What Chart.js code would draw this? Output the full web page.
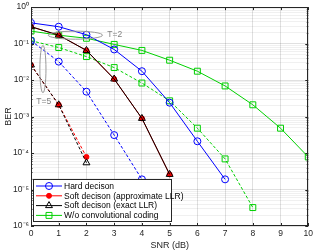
<!DOCTYPE html>
<html><head><meta charset="utf-8">
<script src="https://cdn.jsdelivr.net/npm/chart.js@4/dist/chart.umd.min.js"></script>
<style>html,body{margin:0;padding:0;background:#fff}#c{display:block}</style>
</head><body>
<canvas id="c" width="316" height="252"></canvas>
<script>
// ---- data ----
const snr = [0,1,2,3,4,5,6,7,8,9,10];
const hardT2   = [0.37,0.29,0.175,0.069,0.0175,0.0024,2.1e-4,1.9e-5];
const softApxT2 = [0.29,0.17,0.065,0.0107,8.9e-4,2.6e-5];
const softExT2  = [0.29,0.17,0.065,0.0107,8.9e-4,2.6e-5];
const uncT2    = [0.22,0.17,0.14,0.095,0.065,0.035,0.0175,0.0069,0.0021,4.8e-4,7.8e-5];
const hardT5   = [0.12,0.032,0.0048,3.1e-4,1.9e-5];
const softApxT5 = [0.026,0.0021,7.8e-5];
const softExT5  = [0.026,0.0021,5.4e-5];
const uncT5    = [0.12,0.078,0.044,0.022,0.0083,0.0027,4.8e-4,6.9e-5,3.2e-6];
const xTicks = [0,1,2,3,4,5,6,7,8,9,10];
const yDecades = [-6,-5,-4,-3,-2,-1,0];
const legendLabels = ['Hard decison','Soft decison (approximate LLR)','Soft decison (exact LLR)','W/o convolutional coding'];

const BLUE='#0000ff', RED='#ff0000', BLACK='#000000', GREEN='#00d000';
const pts = v => v.map((y,i)=>({x:snr[i], y}));
const sup = {'-':'\u207B','0':'\u2070','1':'\u00B9','2':'\u00B2','3':'\u00B3','4':'\u2074','5':'\u2075','6':'\u2076'};
const supStr = n => String(n).split('').map(c=>sup[c]).join('');
const FONT = '"Liberation Sans", Arial, sans-serif';

function ds(label, data, color, style, r, fill, dash, order, inLegend){
  return {label, data: pts(data), borderColor: color, backgroundColor: fill,
    pointStyle: style, pointRadius: r, pointBorderColor: color, pointBackgroundColor: fill,
    pointBorderWidth: 1, borderWidth: 1, borderDash: dash, tension: 0, order, inLegend};
}
const datasets = [
  ds(legendLabels[0], hardT2, BLUE, 'circle', 3.5, 'rgba(0,0,0,0)', [], 3, true),
  ds(legendLabels[1], softApxT2, RED, 'circle', 2.5, RED, [], 2, true),
  ds(legendLabels[2], softExT2, BLACK, 'triangle', 4, 'rgba(0,0,0,0)', [], 1, true),
  ds(legendLabels[3], uncT2, GREEN, 'rect', 4.2, 'rgba(0,0,0,0)', [], 4, true),
  ds('Hard T=5', hardT5, BLUE, 'circle', 3.5, 'rgba(0,0,0,0)', [3,2], 6, false),
  ds('Soft apx T=5', softApxT5, RED, 'circle', 2.5, RED, [3,2], 5, false),
  ds('Soft ex T=5', softExT5, BLACK, 'triangle', 4, 'rgba(0,0,0,0)', [3,2], 4.5, false),
  ds('Unc T=5', uncT5, GREEN, 'rect', 4.2, 'rgba(0,0,0,0)', [3,2], 7, false),
];

const annot = {
  id:'annot',
  afterDatasetsDraw(chart){
    const ctx = chart.ctx, xs = chart.scales.x, ys = chart.scales.y, a = chart.chartArea;
    ctx.save();
    ctx.strokeStyle = '#9a9a9a'; ctx.lineWidth = 1;
    function ell(cx, cy, rxU, ryDec){
      const px = xs.getPixelForValue(cx), py = ys.getPixelForValue(cy);
      const rx = xs.getPixelForValue(cx+rxU)-px;
      const ry = py - ys.getPixelForValue(cy*Math.pow(10,ryDec));
      ctx.beginPath(); ctx.ellipse(px, py, rx, ry, 0, 0, Math.PI*2); ctx.stroke();
    }
    ell(1.6, 0.17, 0.98, 0.11);
    ell(0.43, 0.02, 0.11, 0.65);
    ctx.fillStyle = '#808080'; ctx.font = '8.5px ' + FONT;
    ctx.textBaseline = 'middle'; ctx.textAlign = 'left';
    ctx.fillText('T=2', xs.getPixelForValue(2.75), ys.getPixelForValue(0.175));
    ctx.textAlign = 'center';
    ctx.fillText('T=5', xs.getPixelForValue(0.46), ys.getPixelForValue(Math.pow(10,-2.6)));
    // box + inward ticks
    ctx.strokeStyle = '#262626'; ctx.lineWidth = 1;
    ctx.strokeRect(Math.round(a.left)+0.5, Math.round(a.top)+0.5, Math.round(a.right-a.left)-1, Math.round(a.bottom-a.top)-1);
    ctx.beginPath();
    xTicks.forEach(v=>{ const p = Math.round(xs.getPixelForValue(v))+0.5;
      ctx.moveTo(p, a.bottom); ctx.lineTo(p, a.bottom-3); ctx.moveTo(p, a.top); ctx.lineTo(p, a.top+3); });
    yDecades.forEach(d=>{ const p = Math.round(ys.getPixelForValue(Math.pow(10,d)))+0.5;
      ctx.moveTo(a.left, p); ctx.lineTo(a.left+3, p); ctx.moveTo(a.right, p); ctx.lineTo(a.right-3, p); });
    for(let d=-6; d<0; d++) for(let m=2; m<10; m++){
      const p = Math.round(ys.getPixelForValue(m*Math.pow(10,d)))+0.5;
      ctx.moveTo(a.left, p); ctx.lineTo(a.left+1.5, p); ctx.moveTo(a.right, p); ctx.lineTo(a.right-1.5, p);
    }
    ctx.stroke();
    // legend
    const lx = 33.5, ly = 179.5, lw = 138, lh = 42;
    ctx.fillStyle = '#fff'; ctx.fillRect(lx, ly, lw, lh);
    ctx.strokeStyle = '#262626'; ctx.strokeRect(lx, ly, lw, lh);
    const legDs = chart.data.datasets.filter(d=>d.inLegend);
    legDs.forEach((d,i)=>{
      const y = 186 + i*9.8;
      ctx.strokeStyle = d.borderColor; ctx.lineWidth = 1; ctx.setLineDash([]);
      ctx.beginPath(); ctx.moveTo(36, y); ctx.lineTo(62, y); ctx.stroke();
      ctx.fillStyle = d.pointBackgroundColor; ctx.strokeStyle = d.borderColor;
      Chart.helpers.drawPoint(ctx, {pointStyle: d.pointStyle, radius: d.pointRadius, borderWidth: 1, rotation: 0}, 49, y);
      ctx.fillStyle = '#000'; ctx.textAlign = 'left'; ctx.textBaseline = 'middle';
      ctx.font = '8.5px ' + FONT;
      ctx.fillText(d.label, 64, y+0.5);
    });
    ctx.restore();
  }
};

const chart = new Chart(document.getElementById('c'), {
  type: 'line',
  data: { datasets },
  options: {
    responsive: false, animation: false, devicePixelRatio: 1,
    layout: { padding: { top: 4, right: 5, left: 0, bottom: 0 } },
    plugins: { legend: { display: false }, tooltip: { enabled: false } },
    scales: {
      x: { type: 'linear', min: 0, max: 10,
        afterBuildTicks: s => { s.ticks = xTicks.map(v=>({value:v})); },
        afterFit: s => { s.height = 26; },
        ticks: { padding: 3, color: '#262626', font: { size: 8.5, family: FONT }, maxRotation: 0, autoSkip: false },
        grid: { color: 'rgba(0,0,0,0.12)', drawTicks: false },
        border: { display: false },
        title: { display: true, text: 'SNR (dB)', color: '#262626', padding: { top: 0, bottom: 1 }, font: { size: 9, family: FONT } }
      },
      y: { type: 'logarithmic', min: 1e-6, max: 1,
        afterBuildTicks: s => { const t=[]; for(let d=-6; d<0; d++) for(let m=1; m<10; m++) t.push({value: m*Math.pow(10,d)}); t.push({value:1}); s.ticks = t; },
        afterFit: s => { s.width = 31; },
        ticks: { padding: 2, color: '#262626', autoSkip: false, font: { size: 8.5, family: FONT },
          callback: v => { const l = Math.log10(v); const r = Math.round(l); return Math.abs(l-r)<1e-9 ? '10'+supStr(r) : ''; } },
        grid: { drawTicks: false, color: c => { const l = Math.log10(c.tick.value); return Math.abs(l-Math.round(l))<1e-9 ? 'rgba(0,0,0,0.12)' : 'rgba(0,0,0,0.06)'; } },
        border: { display: false },
        title: { display: true, text: 'BER', color: '#262626', padding: { top: 3, bottom: 0 }, font: { size: 9, family: FONT } }
      }
    }
  },
  plugins: [annot]
});
</script>
</body></html>
